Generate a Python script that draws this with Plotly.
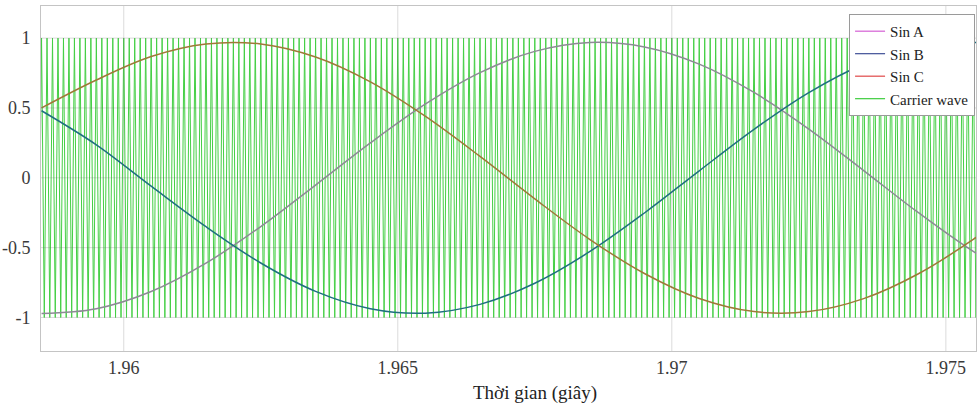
import numpy as np
import plotly.graph_objects as go

# --- data ---
t_sin = [1.9585, 1.9595, 1.9605, 1.9615, 1.9625, 1.9635, 1.9645, 1.9655, 1.9665, 1.9675,
         1.9685, 1.9695, 1.9705, 1.9715, 1.9725, 1.9735, 1.9745, 1.9755, 1.9765]
sin_a = [-0.972, -0.937, -0.814, -0.611, -0.349, -0.052, 0.250, 0.527, 0.753, 0.905,
         0.969, 0.937, 0.814, 0.611, 0.349, 0.052, -0.250, -0.527, -0.753]
sin_b = [0.480, 0.236, -0.060, -0.350, -0.610, -0.813, -0.937, -0.969, -0.906, -0.755,
         -0.529, -0.252, 0.050, 0.347, 0.610, 0.813, 0.937, 0.969, 0.906]
sin_c = [0.500, 0.700, 0.868, 0.958, 0.958, 0.865, 0.687, 0.441, 0.153, -0.151,
         -0.440, -0.685, -0.864, -0.958, -0.958, -0.865, -0.687, -0.441, -0.153]

carrier_start = 1.9584      # first carrier vertex (s)
carrier_stop = 1.9758       # last carrier vertex (s)
carrier_half_period = 0.00005   # 10 kHz triangle carrier
carrier_peak = 1.0

x_ticks = [1.96, 1.965, 1.97, 1.975]
x_tick_labels = ["1.96", "1.965", "1.97", "1.975"]
y_ticks = [-1, -0.5, 0, 0.5, 1]
y_tick_labels = ["-1", "-0.5", "0", "0.5", "1"]

legend_names = ["Sin A", "Sin B", "Sin C", "Carrier wave"]
x_title = "Thời gian (giây)"

# carrier vertices alternate between +peak and -peak
t_car = np.arange(carrier_start, carrier_stop + carrier_half_period / 2, carrier_half_period)
y_car = np.where(np.arange(len(t_car)) % 2 == 0, carrier_peak, -carrier_peak)

FONT = "Liberation Serif"

fig = go.Figure()

# carrier (drawn underneath)
fig.add_trace(go.Scatter(x=t_car, y=y_car, mode="lines",
                         line=dict(color="#45cf45", width=1),
                         showlegend=False, hoverinfo="skip"))

# sine references (colours appear blended with the dense green carrier)
plot_cols = {"Sin A": "#8e8a96", "Sin B": "#1f6f80", "Sin C": "#a07838"}
for name, vals in zip(legend_names[:3], [sin_a, sin_b, sin_c]):
    fig.add_trace(go.Scatter(x=t_sin, y=vals, mode="lines", line_shape="spline",
                             line=dict(color=plot_cols[name], width=1.5),
                             showlegend=False))

# legend entries
leg_cols = ["#d45fd4", "#3f4f96", "#e04848", "#3dcc3d"]
for name, c in zip(legend_names, leg_cols):
    fig.add_trace(go.Scatter(x=[None], y=[None], mode="lines", name=name,
                             line=dict(color=c, width=1.2)))

# grid lines above data (MATLAB-style top layer)
for yv in y_ticks:
    fig.add_shape(type="line", xref="paper", x0=0, x1=1, yref="y", y0=yv, y1=yv,
                  line=dict(color="rgba(90,90,90,0.22)", width=1), layer="above")
for xv in x_ticks:
    fig.add_shape(type="line", yref="paper", y0=0, y1=1, xref="x", x0=xv, x1=xv,
                  line=dict(color="rgba(90,90,90,0.22)", width=1), layer="above")

# x-axis title (sits slightly right of centre in the original)
fig.add_annotation(text=x_title, xref="paper", yref="paper", x=0.528, y=-0.122,
                   xanchor="center", yanchor="middle", showarrow=False,
                   font=dict(family=FONT, size=19, color="#222222"))

fig.update_layout(
    width=979, height=407,
    margin=dict(l=40, r=2, t=6, b=56),
    paper_bgcolor="white", plot_bgcolor="white",
    font=dict(family=FONT, size=18, color="#3a3a3a"),
    legend=dict(x=0.999, y=0.977, xanchor="right", yanchor="top",
                bgcolor="white", bordercolor="#9a9a9a", borderwidth=1,
                font=dict(family=FONT, size=15, color="#222222"),
                itemwidth=30, tracegroupgap=0),
    xaxis=dict(range=[1.95849, 1.97555], tickvals=x_ticks, ticktext=x_tick_labels,
               showgrid=False, zeroline=False, showline=True, linecolor="#c4c4c4",
               mirror=True, ticks=""),
    yaxis=dict(range=[-1.24, 1.23], tickvals=y_ticks, ticktext=y_tick_labels,
               showgrid=False, zeroline=False, showline=True, linecolor="#c4c4c4",
               mirror=True, ticks="", ticklabelstandoff=6),
)

fig.write_html("out.html")
